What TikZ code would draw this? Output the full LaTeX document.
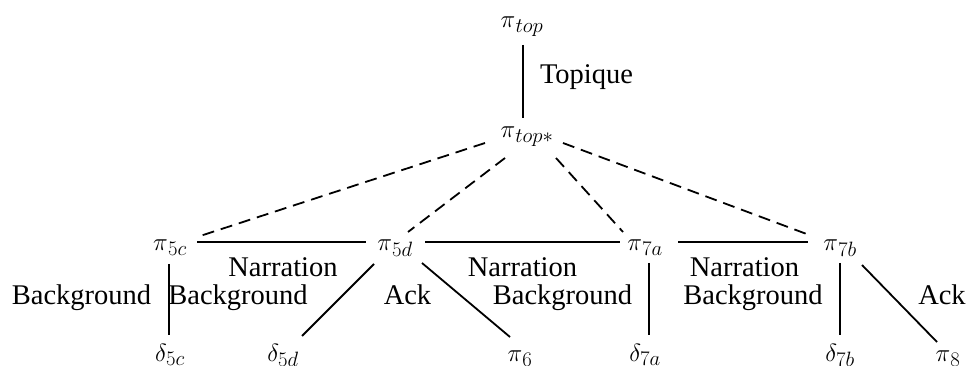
\documentclass[tikz,border=0pt]{standalone}
\usepackage[no-math]{fontspec}
\setmainfont{Liberation Serif}
\DeclareMathSizes{28.5}{31}{22}{16}
\usetikzlibrary{calc}
\begin{document}
\begin{tikzpicture}[x=1pt,y=-1pt,
  every node/.style={inner sep=0pt,outer sep=0pt,font=\fontsize{28.5}{34}\selectfont},
  lbl/.style={anchor=base},
  conn/.style={line width=1.8pt},
  dconn/.style={line width=1.8pt,dash pattern=on 12pt off 7pt}]
\useasboundingbox (0,0) rectangle (970,366);
\clip (0,0) rectangle (970,366);
% nodes
\node[lbl] (top) at (522,28) {$\pi_{\hspace{1pt}top}$};
\node[lbl] (topstar) at (527,138) {$\pi_{\hspace{1pt}top*}$};
\node[lbl] (p5c) at (170,251) {$\pi_{\hspace{1pt}5c}$};
\node[lbl] (p5d) at (395,251) {$\pi_{\hspace{1pt}5d}$};
\node[lbl] (p7a) at (645,251) {$\pi_{\hspace{1pt}7a}$};
\node[lbl] (p7b) at (840,251) {$\pi_{\hspace{1pt}7b}$};
\node[lbl] (d5c) at (170,361) {$\delta_{5c}$};
\node[lbl] (d5d) at (283,361) {$\delta_{5d}$};
\node[lbl] (p6) at (520,362) {$\pi_{\hspace{1pt}6}$};
\node[lbl] (d7a) at (645,361) {$\delta_{7a}$};
\node[lbl] (d7b) at (840,361) {$\delta_{7b}$};
\node[lbl] (p8) at (948,362) {$\pi_{\hspace{1pt}8}$};
% labels
\node[anchor=base west] (ltop) at (540,84) {Topique};
\node[lbl] (ln1) at (283,277) {Narration};
\node[lbl] (lb1) at (238,305) {Background};
\node[lbl] (lb0) at (81.5,305) {Background};
\node[lbl] (ln2) at (522.5,277) {Narration};
\node[lbl] (lb2) at (562.5,305) {Background};
\node[lbl] (ln3) at (744.5,277) {Narration};
\node[lbl] (lb3) at (753,305) {Background};
\node[lbl] (lack1) at (407.5,305) {Ack};
\node[lbl] (lack2) at (942,305) {Ack};
% connectors
\draw[conn] ($(top.base)+(1,17)$) -- ($(topstar.base)+(-4,-20)$);
\draw[dconn] ($(topstar.base)+(-42,5)$) -- ($(p5c.base)+(27,-14)$);
\draw[dconn] ($(topstar.base)+(-22,20)$) -- ($(p5d.base)+(13,-19)$);
\draw[dconn] ($(topstar.base)+(29,20)$) -- ($(p7a.base)+(-22,-19)$);
\draw[dconn] ($(topstar.base)+(36,5)$) -- ($(p7b.base)+(-28,-15)$);
\draw[conn] ($(p5c.base)+(27,-9)$) -- ($(p5d.base)+(-29,-9)$);
\draw[conn] ($(p5d.base)+(30,-9)$) -- ($(p7a.base)+(-25,-9)$);
\draw[conn] ($(p7a.base)+(33,-9)$) -- ($(p7b.base)+(-32,-9)$);
\draw[conn] ($(p5c.base)+(-1,13)$) -- ($(d5c.base)+(-1,-26)$);
\draw[conn] ($(p5d.base)+(-21,13)$) -- ($(d5d.base)+(19,-25)$);
\draw[conn] ($(p5d.base)+(27,12)$) -- ($(p6.base)+(-10,-25)$);
\draw[conn] ($(p7a.base)+(4,12)$) -- ($(d7a.base)+(4,-26)$);
\draw[conn] ($(p7b.base)+(0,12)$) -- ($(d7b.base)+(0,-26)$);
\draw[conn] ($(p7b.base)+(22,14)$) -- ($(p8.base)+(-11,-20)$);
\end{tikzpicture}
\end{document}
